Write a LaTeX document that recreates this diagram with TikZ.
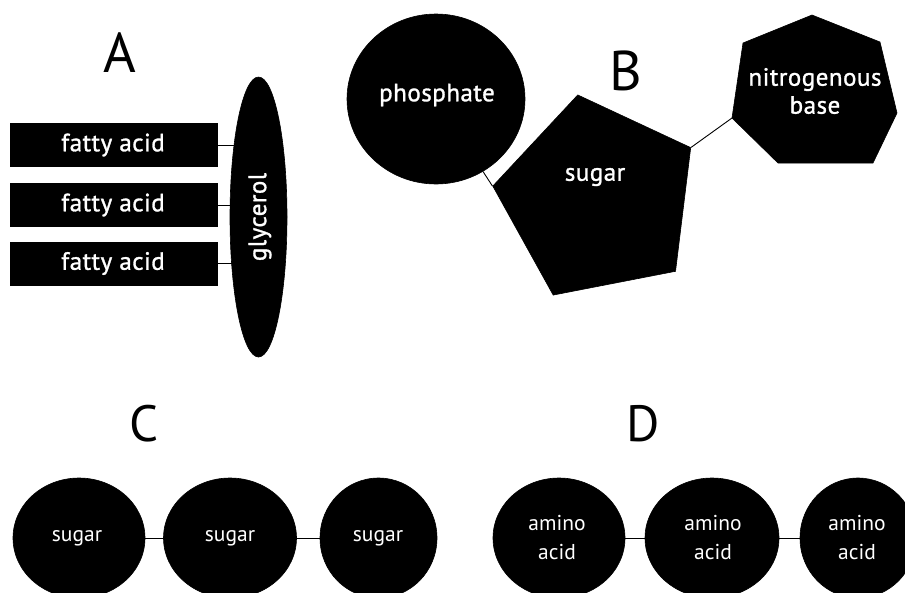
\documentclass[tikz,border=0pt]{standalone}
\usepackage{fontspec}
\setmainfont{PT Sans}
\newfontfamily\semibf[FakeBold=1.2,LetterSpace=2]{PT Sans}
\usetikzlibrary{shapes.geometric,backgrounds}
\begin{document}
\begin{tikzpicture}[x=1pt,y=-1pt,
  blk/.style={fill=black,draw=black,text=white,inner sep=0pt,line width=0.6pt},
  bigletter/.style={inner sep=0pt,font=\fontsize{56}{60}\selectfont},
  smalletter/.style={inner sep=0pt,font=\fontsize{51}{55}\selectfont},
  txtab/.style={text=white,inner sep=0pt,font=\semibf\fontsize{25}{28}\selectfont,align=center},
  txtcd/.style={text=white,inner sep=0pt,font=\fontsize{21.5}{29}\selectfont,align=center},
  fatty/.style={blk,rectangle,minimum width=207pt,minimum height=43pt},
  ell/.style={blk,ellipse},
  link/.style={draw=black,line width=0.9pt}]
\useasboundingbox (0,0) rectangle (905,592);
\clip (0,0) rectangle (905,592);

% ---------- A ----------
\node[bigletter] (labA) at (120,53) {A};
\node[ell,minimum width=57pt,minimum height=280pt] (gly) at (258.5,217) {};
\node[txtab,rotate=90] (glyt) at (260,217) {glycerol};
\node[fatty] (fa1) at (113.5,145) {};
\node[fatty] (fa2) at (113.5,205) {};
\node[fatty] (fa3) at (113.5,263.5) {};
\node[txtab] (fa1t) at (113,145) {fatty acid};
\node[txtab] (fa2t) at (113,205) {fatty acid};
\node[txtab] (fa3t) at (113,263.5) {fatty acid};
\begin{scope}[on background layer]
  \draw[link] (fa1.east) -- (fa1.east -| gly.center);
  \draw[link] (fa2.east) -- (fa2.east -| gly.center);
  \draw[link] (fa3.east) -- (fa3.east -| gly.center);
\end{scope}

% ---------- B ----------
\node[bigletter] (labB) at (626,71) {B};
\node[ell,minimum width=178pt,minimum height=170pt] (pho) at (436,99) {};
\node[txtab] (phot) at (437,95) {phosphate};
\node[blk,regular polygon,regular polygon sides=5,shape border rotate=11,minimum size=212pt] (sug) at (598,199) {};
\node[txtab] (sugt) at (595,177) {sugar};
\coordinate (h1) at (812,15);
\coordinate (h2) at (880,42);
\coordinate (h3) at (897,113);
\coordinate (h4) at (873,163);
\coordinate (h5) at (778,163);
\coordinate (h6) at (732,118);
\coordinate (h7) at (743,43);
\fill[black,draw=black,line width=0.6pt] (h1) -- (h2) -- (h3) -- (h4) -- (h5) -- (h6) -- (h7) -- cycle;
\node[txtab] (base) at (815,91) {nitrogenous\\base};
\draw[link] (sug.corner 2) -- (pho);
\draw[link] (sug.corner 5) -- (h6);

% ---------- C ----------
\node[smalletter] (labC) at (144,424) {C};
\node[ell,minimum width=132pt,minimum height=120pt] (c1) at (79,538) {};
\node[ell,minimum width=133pt,minimum height=120pt] (c2) at (230,538) {};
\node[ell,minimum width=117pt,minimum height=120pt] (c3) at (378.5,538) {};
\node[txtcd] (c1t) at (77,538) {sugar};
\node[txtcd] (c2t) at (230,538) {sugar};
\node[txtcd] (c3t) at (378,538) {sugar};
\draw[link] (c1) -- (c2);
\draw[link] (c2) -- (c3);

% ---------- D ----------
\node[smalletter] (labD) at (643,424) {D};
\node[ell,minimum width=132pt,minimum height=120pt] (d1) at (559,538) {};
\node[ell,minimum width=134pt,minimum height=120pt] (d2) at (712,538) {};
\node[ell,minimum width=116pt,minimum height=120pt] (d3) at (858,538) {};
\node[txtcd] (d1t) at (557,538) {amino\\acid};
\node[txtcd] (d2t) at (713,538) {amino\\acid};
\node[txtcd] (d3t) at (857,538) {amino\\acid};
\draw[link] (d1) -- (d2);
\draw[link] (d2) -- (d3);
\end{tikzpicture}
\end{document}
